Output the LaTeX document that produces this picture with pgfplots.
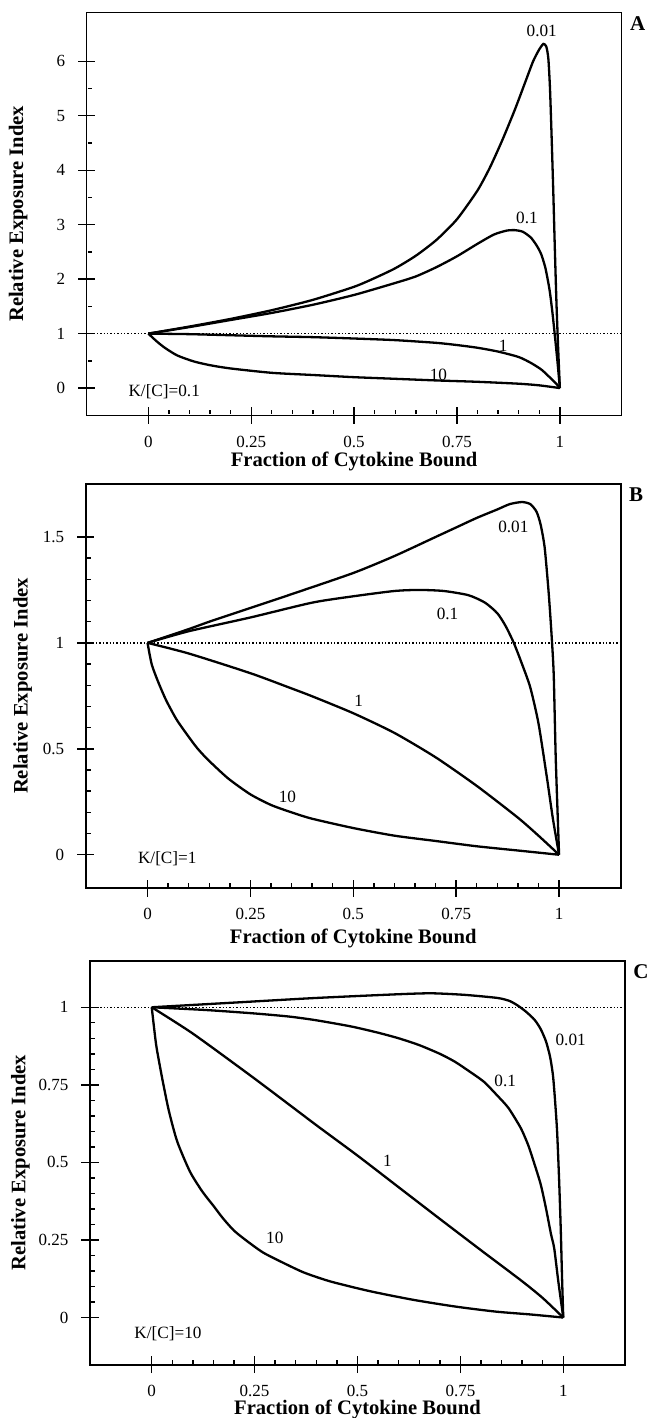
\documentclass[border=0pt]{standalone}
\usepackage{pgfplots}
\pgfplotsset{compat=1.18}
\usepackage{fontspec}
\setmainfont{Liberation Serif}
\tikzset{cl/.style={font=\fontsize{8.6}{9}\selectfont, inner sep=0pt},
  plet/.style={anchor=north west, inner sep=0pt, font=\bfseries\fontsize{10.5}{12}\selectfont},
  curve/.style={black, mark=none, line width=1.15pt, smooth, tension=0.4},
  refl/.style={black, mark=none, densely dotted, line width=0.7pt}}
\begin{document}
\begin{tikzpicture}
\path[use as bounding box] (0,0) rectangle (323.5pt,-709pt);
\pgfplotsset{
  panel/.style={
    scale only axis, width=267.5pt, height=201.5pt, anchor=north west,
    xmin=-0.15, xmax=1.15,
    xtick={0,0.25,0.5,0.75,1}, xticklabels={0,0.25,0.5,0.75,1},
    minor x tick num=4,
    xtick pos=left, ytick pos=left,
    tick align=center, major tick length=8.5pt, minor tick length=2pt,
    minor x tick style={yshift=1.6pt}, minor y tick style={xshift=1.6pt},
    axis line style={line width=0.8pt}, every tick/.style={black, line width=0.7pt},
    /pgf/number format/assume math mode=true,
    tick label style={font=\fontsize{8.5}{9}\selectfont},
    xticklabel style={yshift=-2.5pt}, yticklabel style={xshift=-3pt},
    label style={font=\bfseries\fontsize{10.3}{12}\selectfont},
    xlabel={Fraction of Cytokine Bound}, ylabel={Relative Exposure Index},
    ylabel style={at={(axis description cs:-0.128,0.5)}, anchor=center},
    clip=false,
  },
}
% ---------------- Panel A
\begin{axis}[panel, at={(43.3pt,-6.15pt)},
  ymin=-0.5, ymax=6.9, ytick={0,1,2,3,4,5,6}, yticklabels={0,1,2,3,4,5,6},
  minor y tick num=1,
  xlabel style={at={(axis description cs:0.5,0)}, anchor=center, yshift=-23pt}]
\addplot[refl] coordinates {(-0.15,1) (1.15,1)};
\addplot[curve] coordinates {(0,1) (0.1,1.13) (0.2,1.27) (0.3,1.43) (0.4,1.62) (0.5,1.86) (0.55,2.02) (0.6,2.2) (0.65,2.43) (0.7,2.72) (0.75,3.1) (0.8,3.63) (0.83,4.05) (0.86,4.55) (0.89,5.1) (0.915,5.6) (0.935,6.0) (0.95,6.22) (0.96,6.32) (0.967,6.27) (0.972,6.05) (0.976,5.5) (0.98,4.6) (0.984,3.6) (0.988,2.5) (0.992,1.5) (0.996,0.7) (1,0)};
\addplot[curve] coordinates {(0,1) (0.1,1.12) (0.2,1.25) (0.3,1.38) (0.4,1.53) (0.5,1.71) (0.6,1.93) (0.65,2.05) (0.7,2.22) (0.75,2.42) (0.8,2.65) (0.84,2.82) (0.87,2.89) (0.89,2.9) (0.91,2.87) (0.93,2.76) (0.945,2.6) (0.955,2.45) (0.965,2.2) (0.975,1.8) (0.982,1.38) (0.988,0.95) (0.994,0.5) (1,0)};
\addplot[curve] coordinates {(0,1) (0.1,0.99) (0.2,0.97) (0.3,0.95) (0.4,0.935) (0.5,0.91) (0.6,0.88) (0.7,0.83) (0.75,0.79) (0.8,0.74) (0.85,0.67) (0.9,0.57) (0.93,0.46) (0.955,0.34) (0.975,0.2) (0.99,0.09) (1,0)};
\addplot[curve] coordinates {(0,1) (0.02,0.86) (0.04,0.74) (0.07,0.6) (0.11,0.49) (0.15,0.42) (0.2,0.36) (0.3,0.28) (0.4,0.24) (0.5,0.2) (0.6,0.17) (0.7,0.14) (0.8,0.115) (0.9,0.08) (0.95,0.05) (1,0)};
\node[cl] at (axis cs:0.956,6.55) {0.01};
\node[cl] at (axis cs:0.92,3.13) {0.1};
\node[cl] at (axis cs:0.862,0.78) {1};
\node[cl] at (axis cs:0.705,0.245) {10};
\node[cl, anchor=west] at (axis cs:-0.049,-0.06) {K/[C]=0.1};
\node[plet] at ([xshift=4pt, yshift=-1.8pt]rel axis cs:1,1) {A};
\end{axis}
% ---------------- Panel B
\begin{axis}[panel, at={(42.9pt,-242pt)}, height=202pt,
  ymin=-0.157, ymax=1.75, ytick={0,0.5,1,1.5}, yticklabels={0,0.5,1,1.5},
  minor y tick num=4,
  ylabel style={at={(axis description cs:-0.118,0.5)}},
  xlabel style={at={(axis description cs:0.5,0)}, anchor=center, yshift=-25pt}]
\addplot[refl] coordinates {(-0.15,1) (1.15,1)};
\addplot[curve] coordinates {(0,1) (0.1,1.065) (0.15,1.1) (0.25,1.165) (0.35,1.23) (0.5,1.33) (0.6,1.41) (0.7,1.5) (0.75,1.545) (0.8,1.59) (0.85,1.63) (0.88,1.655) (0.91,1.665) (0.93,1.655) (0.945,1.62) (0.955,1.56) (0.965,1.45) (0.975,1.23) (0.982,1.03) (0.987,0.85) (0.992,0.45) (1,0)};
\addplot[curve] coordinates {(0,1) (0.1,1.055) (0.25,1.12) (0.4,1.19) (0.5,1.22) (0.6,1.245) (0.66,1.25) (0.72,1.245) (0.78,1.225) (0.82,1.19) (0.85,1.14) (0.87,1.08) (0.89,1.0) (0.91,0.9) (0.93,0.79) (0.95,0.62) (0.97,0.37) (0.985,0.17) (1,0)};
\addplot[curve] coordinates {(0,1) (0.1,0.95) (0.25,0.857) (0.35,0.785) (0.4,0.748) (0.5,0.668) (0.6,0.575) (0.7,0.46) (0.8,0.325) (0.9,0.175) (0.95,0.09) (1,0)};
\addplot[curve] coordinates {(0,1) (0.01,0.9) (0.025,0.82) (0.045,0.73) (0.07,0.64) (0.095,0.57) (0.12,0.505) (0.146,0.45) (0.196,0.36) (0.25,0.285) (0.3,0.235) (0.35,0.2) (0.4,0.17) (0.5,0.126) (0.6,0.09) (0.7,0.065) (0.8,0.04) (0.9,0.02) (1,0)};
\node[cl] at (axis cs:0.889,1.549) {0.01};
\node[cl] at (axis cs:0.729,1.137) {0.1};
\node[cl] at (axis cs:0.513,0.728) {1};
\node[cl] at (axis cs:0.34,0.272) {10};
\node[cl, anchor=west] at (axis cs:-0.024,-0.02) {K/[C]=1};
\node[plet] at ([xshift=4pt, yshift=-1.8pt]rel axis cs:1,1) {B};
\end{axis}
% ---------------- Panel C
\begin{axis}[panel, at={(45pt,-480.35pt)}, height=202pt,
  ymin=-0.152, ymax=1.15, ytick={0,0.25,0.5,0.75,1}, yticklabels={0,0.25,0.5,0.75,1},
  minor y tick num=4,
  ylabel style={at={(axis description cs:-0.130,0.5)}},
  xlabel style={at={(axis description cs:0.5,0)}, anchor=center, yshift=-22.5pt}]
\addplot[refl] coordinates {(-0.15,1) (1.15,1)};
\addplot[curve] coordinates {(0,1) (0.2,1.015) (0.4,1.03) (0.6,1.042) (0.68,1.045) (0.76,1.04) (0.84,1.03) (0.87,1.02) (0.89,1.005) (0.91,0.985) (0.93,0.96) (0.945,0.93) (0.958,0.89) (0.968,0.84) (0.975,0.78) (0.98,0.7) (0.985,0.6) (0.99,0.44) (0.994,0.28) (0.997,0.13) (1,0)};
\addplot[curve] coordinates {(0,1) (0.133,0.991) (0.25,0.98) (0.334,0.97) (0.4,0.958) (0.485,0.938) (0.55,0.918) (0.6,0.9) (0.65,0.878) (0.7,0.85) (0.736,0.825) (0.77,0.795) (0.807,0.76) (0.84,0.715) (0.867,0.675) (0.897,0.61) (0.915,0.555) (0.928,0.503) (0.945,0.43) (0.958,0.352) (0.97,0.27) (0.978,0.223) (0.988,0.116) (1,0)};
\addplot[curve] coordinates {(0,1) (0.1,0.915) (0.25,0.77) (0.4,0.62) (0.5,0.522) (0.6,0.42) (0.7,0.318) (0.8,0.217) (0.9,0.117) (0.95,0.063) (1,0)};
\addplot[curve] coordinates {(0,1) (0.006,0.93) (0.012,0.868) (0.027,0.76) (0.042,0.664) (0.062,0.567) (0.093,0.47) (0.123,0.406) (0.15,0.36) (0.173,0.32) (0.2,0.28) (0.233,0.245) (0.27,0.21) (0.314,0.18) (0.37,0.145) (0.435,0.116) (0.53,0.085) (0.636,0.057) (0.74,0.035) (0.837,0.019) (0.92,0.01) (1,0)};
\node[cl] at (axis cs:1.018,0.895) {0.01};
\node[cl] at (axis cs:0.859,0.764) {0.1};
\node[cl] at (axis cs:0.573,0.505) {1};
\node[cl] at (axis cs:0.299,0.258) {10};
\node[cl, anchor=west] at (axis cs:-0.043,-0.053) {K/[C]=10};
\node[plet] at ([xshift=4pt, yshift=-1.8pt]rel axis cs:1,1) {C};
\end{axis}
\end{tikzpicture}
\end{document}
